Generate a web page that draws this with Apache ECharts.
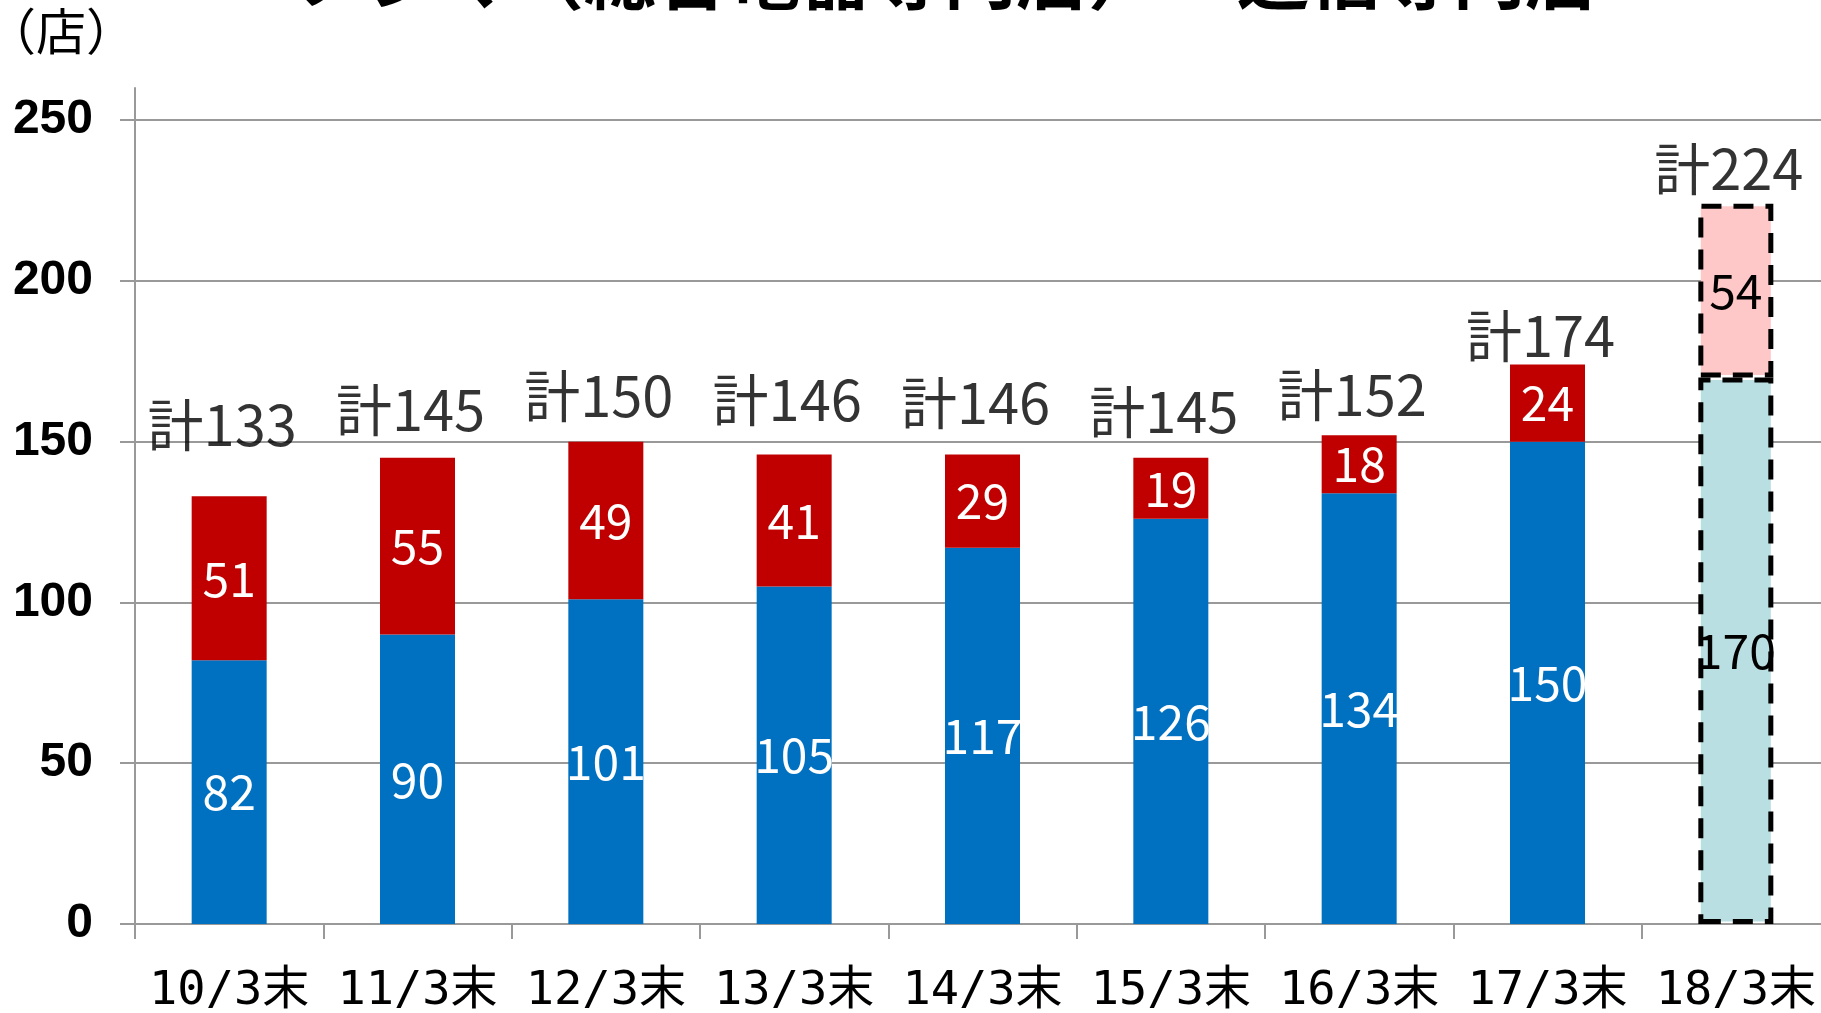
<!DOCTYPE html>
<html>
<head>
<meta charset="utf-8">
<script src="https://cdn.jsdelivr.net/npm/echarts@6/dist/echarts.min.js"></script>
</head>
<body style="margin:0;padding:0;background:#fff;">
<div id="main" style="width:1821px;height:1013px;"></div>
<script>
// categories (fiscal year end)
var months = ['10/3末', '11/3末', '12/3末', '13/3末', '14/3末', '15/3末', '16/3末', '17/3末', '18/3末'];
// store counts
var homeStores = [82, 90, 101, 105, 117, 126, 134, 150, 170];
var mobileStores = [51, 55, 49, 41, 29, 19, 18, 24, 54];
var planIndex = 8; // last column is a plan
var yTicks = [0, 50, 100, 150, 200, 250];

// how far above the bar top each total label sits (px)
var totalLift = [72, 48, 46, 55, 52, 46, 41, 29, 35];

var totals = homeStores.map(function (v, i) { return v + mobileStores[i]; });

var jpFont = "'Noto Sans CJK JP', sans-serif";

var planBorder = { borderColor: '#000', borderWidth: 5, borderType: [20, 12] };

var chart = echarts.init(document.getElementById('main'));
chart.setOption({
  animation: false,
  grid: { left: 135, width: 1695, top: 88, bottom: 89, outerBoundsMode: 'none', containLabel: false },
  graphic: [
    { type: 'text', left: 296, top: -60, style: { text: 'ノジマ（総合電器専門店）', font: 'bold 72px ' + jpFont, fill: '#000' } },
    { type: 'text', left: 1237, top: -60, style: { text: '通信専門店', font: 'bold 72px ' + jpFont, fill: '#000' } },
    { type: 'text', left: -14, top: 6, style: { text: '（店）', font: '50px ' + jpFont, fill: '#000' } }
  ],
  xAxis: {
    type: 'category',
    data: months,
    axisLine: { lineStyle: { color: '#999', width: 2 } },
    axisTick: { show: true, length: 15, lineStyle: { color: '#999', width: 2 } },
    axisLabel: { interval: 0, margin: 44, fontSize: 47, color: '#000', fontFamily: "'DejaVu Sans Mono', 'Noto Sans CJK JP', monospace" }
  },
  yAxis: {
    type: 'value',
    min: 0,
    max: 260,
    axisLine: { show: true, lineStyle: { color: '#999', width: 2 } },
    axisTick: { show: true, length: 15, customValues: yTicks, lineStyle: { color: '#999', width: 2 } },
    splitLine: { lineStyle: { color: '#999', width: 2 } },
    axisLabel: { customValues: yTicks, margin: 42, padding: [14, 0, 0, 0], fontSize: 48, fontWeight: 'bold', color: '#000', fontFamily: "'Liberation Sans', Arial, sans-serif" }
  },
  series: [
    {
      name: 'ノジマ',
      type: 'bar',
      stack: 'all',
      barWidth: 75,
      data: homeStores.map(function (v, i) {
        if (i !== planIndex) return v;
        return { value: v, itemStyle: Object.assign({ color: '#B9DFE2' }, planBorder), label: { color: '#000' } };
      }),
      itemStyle: { color: '#0070C0' },
      label: { show: true, position: 'inside', color: '#fff', fontSize: 48, fontFamily: jpFont }
    },
    {
      name: '通信',
      type: 'bar',
      stack: 'all',
      barWidth: 75,
      data: mobileStores.map(function (v, i) {
        if (i !== planIndex) return v;
        return { value: v, itemStyle: Object.assign({ color: '#FFC8C8' }, planBorder), label: { color: '#000' } };
      }),
      itemStyle: { color: '#C00000' },
      label: { show: true, position: 'inside', color: '#fff', fontSize: 48, fontFamily: jpFont }
    },
    {
      name: '計',
      type: 'scatter',
      symbolSize: 1,
      itemStyle: { color: 'rgba(0,0,0,0)' },
      data: totals.map(function (v, i) {
        return { value: v, label: { offset: [-7, -totalLift[i]] } };
      }),
      label: {
        show: true,
        position: 'inside',
        formatter: function (p) { return '計' + p.value; },
        color: '#000',
        fontSize: 56,
        fontFamily: jpFont
      },
      z: 5
    }
  ]
});
</script>
</body>
</html>
